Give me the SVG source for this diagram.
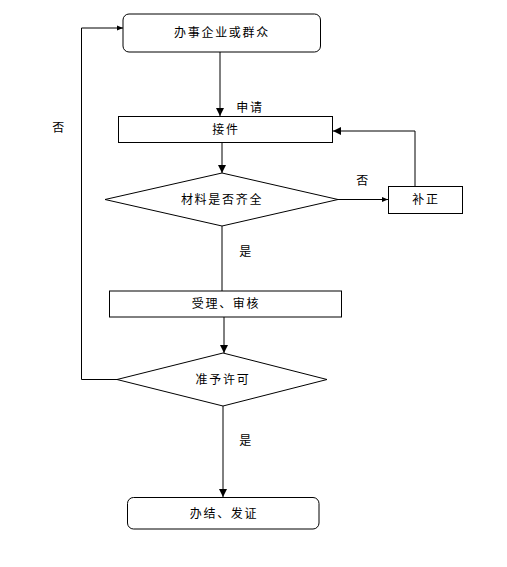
<svg xmlns="http://www.w3.org/2000/svg" width="507" height="567" viewBox="0 0 507 567">
<style>
.n{fill:#fff;stroke:#000;stroke-width:1}
.t{font-family:"Noto Sans CJK SC","Liberation Sans",sans-serif;font-size:12px;fill:#000;text-anchor:middle;letter-spacing:1.7px}
.c{fill:none;stroke:#000;stroke-width:1}
</style>
<defs>
<marker id="a" viewBox="0 0 10 10" refX="10" refY="5" markerWidth="8" markerHeight="8" markerUnits="userSpaceOnUse" orient="auto"><path d="M0,0L10,5L0,10z" fill="#000"/></marker>
<marker id="s" viewBox="0 0 10 10" refX="10" refY="5" markerWidth="6" markerHeight="6" markerUnits="userSpaceOnUse" orient="auto"><path d="M0,1L10,5L0,9z" fill="#000"/></marker>
</defs>
<rect width="507" height="567" fill="#fff"/>
<g id="connectors">
<path class="c" d="M220,52V116" marker-end="url(#a)"/>
<path class="c" d="M222,143V173" marker-end="url(#a)"/>
<path class="c" d="M338,199.5H388" marker-end="url(#s)"/>
<path class="c" d="M415,186V131H333" marker-end="url(#a)"/>
<path class="c" d="M222,226V291"/>
<path class="c" d="M224,317V353" marker-end="url(#a)"/>
<path class="c" d="M117,379.5H81.5V28H123" marker-end="url(#s)"/>
<path class="c" d="M223,406V497" marker-end="url(#a)"/>
<text class="t" x="250" y="112">申请</text>
<text class="t" x="363" y="185">否</text>
<text class="t" x="246" y="256">是</text>
<text class="t" x="246" y="445">是</text>
<text class="t" x="59" y="132">否</text>
</g>
<g id="n1"><rect class="n" x="123" y="14" width="197.5" height="38" rx="6"/><text class="t" x="222" y="37">办事企业或群众</text></g>
<g id="n2"><rect class="n" x="118.5" y="116.5" width="214" height="26"/><text class="t" x="226" y="134">接件</text></g>
<g id="n3"><path class="n" d="M105,199.5L222,173L338,199.5L222,226Z"/><text class="t" x="222" y="204">材料是否齐全</text></g>
<g id="n4"><rect class="n" x="388.5" y="186.5" width="74" height="27"/><text class="t" x="426" y="204">补正</text></g>
<g id="n5"><rect class="n" x="109.5" y="291" width="232" height="26"/><text class="t" x="226" y="308">受理、审核</text></g>
<g id="n6"><path class="n" d="M117,379.5L223,353L327,379.5L223,406Z"/><text class="t" x="223" y="384">准予许可</text></g>
<g id="n7"><rect class="n" x="127.5" y="497.5" width="191.5" height="31.5" rx="6"/><text class="t" x="224" y="518">办结、发证</text></g>
</svg>
